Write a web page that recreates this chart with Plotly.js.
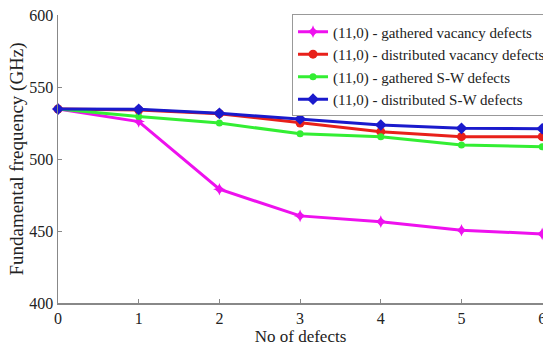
<!DOCTYPE html>
<html><head><meta charset="utf-8">
<script src="https://cdn.plot.ly/plotly-3.0.1.min.js"></script>
<style>html,body{margin:0;padding:0;background:#fff}#c{width:543px;height:349px}
#c text{font-family:'Liberation Serif','Times New Roman',serif !important}</style>
</head><body><div id="c"></div>
<script>
const defects = [0, 1, 2, 3, 4, 5, 6];
const gatheredVacancy = [534.7, 526, 479, 460.5, 456.5, 450.5, 448];
const distributedVacancy = [534.7, 534, 531.5, 525, 519, 515.5, 515.5];
const gatheredSW = [534.7, 529.5, 525, 517.5, 515.5, 509.7, 508.5];
const distributedSW = [534.7, 534.5, 531.7, 527.8, 523.6, 521.3, 521];
const yTicks = [400, 450, 500, 550, 600];
const names = ['(11,0) - gathered vacancy defects','(11,0) - distributed vacancy defects','(11,0) - gathered S-W defects','(11,0) - distributed S-W defects'];
const colors = ['#ee11ee','#e8201a','#33ee33','#1a1acc'];
const symbols = ['star-diamond','circle','circle','diamond'];
const series = [gatheredVacancy, distributedVacancy, gatheredSW, distributedSW];
const traces = series.map((s,i)=>({x:defects,y:s,name:names[i],legendgroup:'g'+i,type:'scatter',mode:'lines+markers',
  line:{color:colors[i],width:3},marker:{color:colors[i],symbol:symbols[i],size:i===2?7:9},cliponaxis:false}));
const layout = {
  width:543,height:349,margin:{l:58,r:0,t:15,b:46,autoexpand:false},
  font:{family:'Liberation Serif',size:16,color:'#222'},
  showlegend:true,
  legend:{x:0.4825,y:1.002,xanchor:'left',yanchor:'top',bgcolor:'#fff',bordercolor:'#999',borderwidth:1,
    font:{size:15},tracegroupgap:3,traceorder:'normal',itemwidth:30},
  xaxis:{range:[0,6.01],tickvals:defects,ticks:'inside',ticklen:4,tickcolor:'#888',showgrid:false,zeroline:false,automargin:false,
    ticklabeloverflow:'allow',
    showline:true,linecolor:'#888',linewidth:1.5,tickfont:{size:16},
    title:{text:'No of defects',font:{size:17},standoff:0}},
  yaxis:{range:[400,600],tickvals:yTicks,ticks:'inside',ticklen:4,tickcolor:'#888',showgrid:false,zeroline:false,automargin:false,
    showline:true,linecolor:'#888',linewidth:1.5,tickfont:{size:16},
    title:{text:'Fundamental frequency (GHz)',font:{size:19},standoff:0}}
};
Plotly.newPlot('c',traces,layout,{displayModeBar:false,staticPlot:true});
</script></body></html>
